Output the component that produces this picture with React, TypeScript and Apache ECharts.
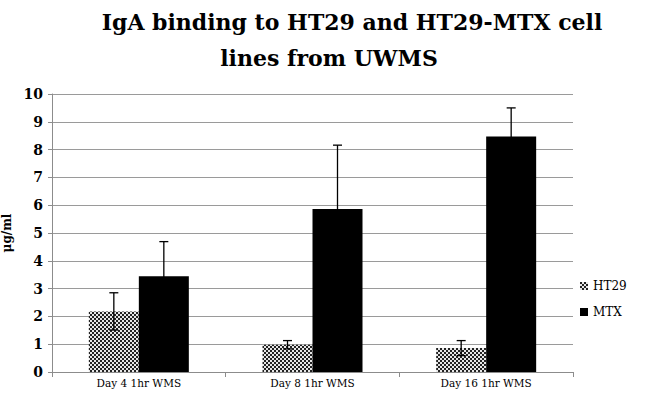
import React, { useEffect, useRef } from "react";
import * as echarts from "echarts";

const titleLines = ["IgA binding to HT29 and HT29-MTX cell", "lines from UWMS"];
const categories = ["Day 4 1hr WMS", "Day 8 1hr WMS", "Day 16 1hr WMS"];
const ht29Values = [2.18, 0.98, 0.86];
const ht29Errors = [0.67, 0.15, 0.27];
const mtxValues = [3.44, 5.86, 8.47];
const mtxErrors = [1.25, 2.3, 1.03];
const yTicks = { min: 0, max: 10, interval: 1 };

const FONT = "DejaVu Serif";

function makeChecker(): string {
  const c = document.createElement("canvas");
  c.width = 4;
  c.height = 4;
  const ctx = c.getContext("2d")!;
  ctx.fillStyle = "#e6e6e6";
  ctx.fillRect(0, 0, 4, 4);
  ctx.fillStyle = "#222222";
  ctx.fillRect(0, 0, 2, 2);
  ctx.fillRect(2, 2, 2, 2);
  return c.toDataURL();
}

export default function App() {
  const ref = useRef<HTMLDivElement>(null);
  useEffect(() => {
    if (!ref.current) return;
    const chart = echarts.init(ref.current, undefined, { renderer: "svg" });
    const pattern = { image: makeChecker(), repeat: "repeat" } as any;
    const BAR_W = 50;

    const errSeries = (vals: number[], errs: number[], offset: number, name: string) => ({
      type: "custom",
      name: name + "_err",
      silent: true,
      z: 10,
      data: vals.map((v, i) => [i, v - errs[i], v + errs[i]]),
      renderItem: (params: any, api: any) => {
        const lo = api.coord([api.value(0), api.value(1)]);
        const hi = api.coord([api.value(0), api.value(2)]);
        const x = lo[0] + offset;
        const cap = 4.5;
        const style = { stroke: "#000", lineWidth: 1.3 };
        return {
          type: "group",
          children: [
            { type: "line", shape: { x1: x, y1: lo[1], x2: x, y2: hi[1] }, style },
            { type: "line", shape: { x1: x - cap, y1: hi[1], x2: x + cap, y2: hi[1] }, style },
            { type: "line", shape: { x1: x - cap, y1: lo[1], x2: x + cap, y2: lo[1] }, style },
          ],
        };
      },
    });

    const titleStyle = {
      fontFamily: FONT,
      fontWeight: "bold",
      fontSize: 22,
      lineHeight: 36,
      color: "#000",
    };

    chart.setOption({
      animation: false,
      textStyle: { fontFamily: FONT },
      title: [
        { text: titleLines[0], left: 352, top: 4, padding: 0, textAlign: "center", textStyle: titleStyle },
        { text: titleLines[1], left: 329, top: 40, padding: 0, textAlign: "center", textStyle: titleStyle },
      ],
      legend: {
        orient: "vertical",
        left: 575,
        top: 275,
        itemWidth: 8,
        itemHeight: 8,
        itemGap: 14,
        icon: "rect",
        data: ["HT29", "MTX"],
        textStyle: { fontFamily: FONT, fontSize: 12, color: "#000" },
      },
      grid: { left: 52, right: 79, top: 94, bottom: 29, outerBoundsMode: "none", containLabel: false },
      xAxis: {
        type: "category",
        data: categories,
        axisLine: { lineStyle: { color: "#8c8c8c" } },
        axisTick: { show: true, length: 5, lineStyle: { color: "#8c8c8c" } },
        axisLabel: { fontFamily: FONT, fontSize: 10.5, color: "#000", margin: 5 },
      },
      yAxis: {
        type: "value",
        min: yTicks.min,
        max: yTicks.max,
        interval: yTicks.interval,
        name: "μg/ml",
        nameLocation: "middle",
        nameGap: 35,
        nameRotate: 90,
        nameTextStyle: { fontFamily: FONT, fontSize: 12, fontWeight: "bold", color: "#000" },
        axisLine: { show: true, lineStyle: { color: "#8c8c8c" } },
        axisTick: { show: true, length: 4, lineStyle: { color: "#8c8c8c" } },
        axisLabel: { fontFamily: FONT, fontSize: 14, fontWeight: "bold", color: "#000", margin: 9 },
        splitLine: { lineStyle: { color: "#9a9a9a", width: 1 } },
      },
      series: [
        {
          name: "HT29",
          type: "bar",
          data: ht29Values,
          barWidth: BAR_W,
          barGap: "0%",
          itemStyle: { color: pattern },
        },
        {
          name: "MTX",
          type: "bar",
          data: mtxValues,
          barWidth: BAR_W,
          barGap: "0%",
          itemStyle: { color: "#000" },
        },
        errSeries(ht29Values, ht29Errors, -BAR_W / 2, "HT29"),
        errSeries(mtxValues, mtxErrors, BAR_W / 2, "MTX"),
      ],
    });
    return () => chart.dispose();
  }, []);
  return (
    <div
      ref={ref}
      style={{ position: "absolute", left: 0, top: 0, width: 652, height: 401 }}
    />
  );
}
